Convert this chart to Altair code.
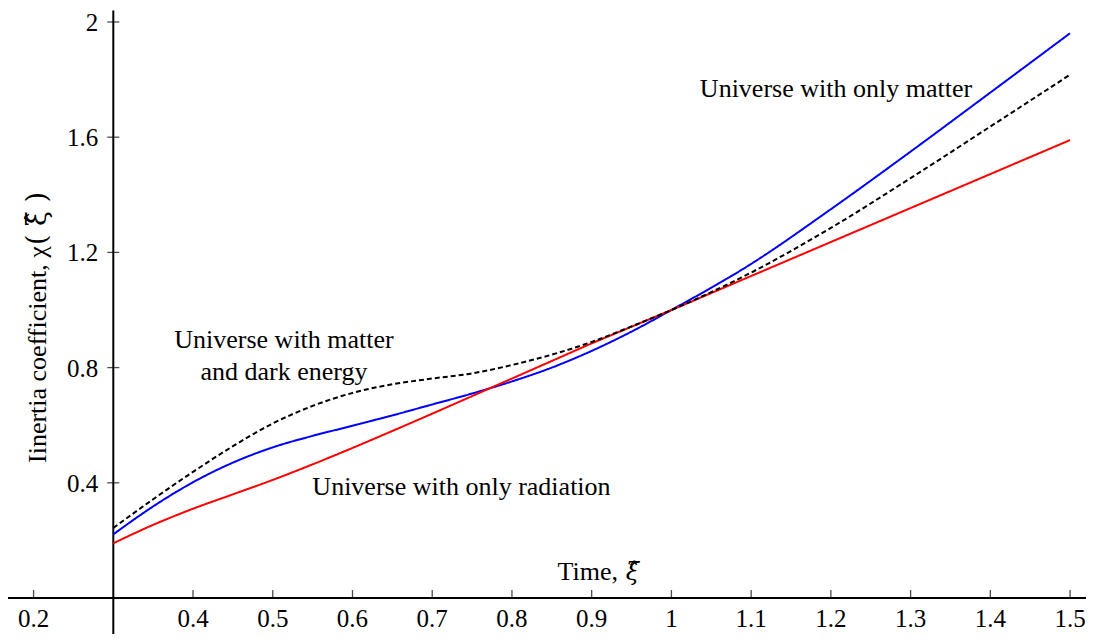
import altair as alt
import pandas as pd

# ---- data ----
xi = [0.30, 0.35, 0.40, 0.45, 0.50, 0.55, 0.60, 0.65, 0.70, 0.75, 0.80,
      0.85, 0.90, 0.95, 1.00, 1.10, 1.20, 1.30, 1.40, 1.50]
only_radiation = [0.190, 0.254, 0.310, 0.360, 0.410, 0.464, 0.521, 0.580, 0.640, 0.701,
                  0.762, 0.823, 0.884, 0.942, 1.000, 1.118, 1.236, 1.354, 1.472, 1.590]
only_matter = [0.221, 0.318, 0.402, 0.470, 0.523, 0.563, 0.598, 0.634, 0.672, 0.710,
               0.752, 0.800, 0.858, 0.925, 1.000, 1.160, 1.350, 1.550, 1.755, 1.961]
matter_dark = [0.243, 0.343, 0.438, 0.527, 0.606, 0.667, 0.712, 0.742, 0.762, 0.780,
               0.809, 0.845, 0.889, 0.943, 1.000, 1.130, 1.285, 1.458, 1.637, 1.817]

series_names = ["matter", "radiation", "dark"]
x_tick_values = [0.2, 0.4, 0.5, 0.6, 0.7, 0.8, 0.9, 1.0, 1.1, 1.2, 1.3, 1.4, 1.5]
x_tick_labels = ["0.2", "0.4", "0.5", "0.6", "0.7", "0.8", "0.9", "1", "1.1", "1.2", "1.3", "1.4", "1.5"]
y_tick_values = [0.4, 0.8, 1.2, 1.6, 2.0]
y_tick_labels = ["0.4", "0.8", "1.2", "1.6", "2"]

# ---- build tables ----
rows = []
for name, vals in zip(series_names, [only_matter, only_radiation, matter_dark]):
    for x, y in zip(xi, vals):
        rows.append({"xi": x, "chi": y, "series": name})
df = pd.DataFrame(rows)
xt = pd.DataFrame({"v": x_tick_values, "label": x_tick_labels})
yt = pd.DataFrame({"v": y_tick_values, "label": y_tick_labels})

FONT = "Liberation Serif"
GREEK = "DejaVu Serif"
X0, X1 = 0.16793, 1.51999
Y0, Y1 = -0.07639, 2.0486
AXIS_X = 0.3
xs = alt.Scale(domain=[X0, X1], nice=False, zero=False)
ys = alt.Scale(domain=[Y0, Y1], nice=False, zero=False)


def X(*a, **k):
    return alt.X(*a, scale=xs, axis=None, **k)


def Y(*a, **k):
    return alt.Y(*a, scale=ys, axis=None, **k)


def XD(v):
    return alt.X(datum=v, type="quantitative", scale=xs, axis=None)


def YD(v):
    return alt.Y(datum=v, type="quantitative", scale=ys, axis=None)


curves = alt.Chart(df).mark_line(interpolate="monotone", strokeWidth=2).encode(
    x=X("xi:Q"),
    y=Y("chi:Q"),
    color=alt.Color("series:N", scale=alt.Scale(domain=series_names,
                                                range=["#0000ff", "#ff0000", "#000000"]), legend=None),
    strokeDash=alt.StrokeDash("series:N", scale=alt.Scale(domain=series_names,
                                                          range=[[1, 0], [1, 0], [5, 3]]), legend=None),
)

x_axis_line = alt.Chart().mark_rule(color="black", strokeWidth=2).encode(
    x=XD(X0 - 0.05), x2=alt.datum(X1 + 0.05), y=YD(0))
y_axis_line = alt.Chart().mark_rule(color="black", strokeWidth=2).encode(
    x=XD(AXIS_X), y=YD(2.04), y2=alt.datum(Y0 - 0.2))

x_ticks = alt.Chart(xt).mark_tick(orient="vertical", size=8, thickness=1.3, yOffset=-4,
                                  color="black").encode(x=X("v:Q"), y=YD(0))
y_ticks = alt.Chart(yt).mark_tick(orient="horizontal", size=12, thickness=1.3,
                                  color="black").encode(x=XD(AXIS_X), y=Y("v:Q"))

x_labels = alt.Chart(xt).mark_text(font=FONT, fontSize=25, baseline="alphabetic", dy=29,
                                   align="center", color="black").encode(
    x=X("v:Q"), y=YD(0), text="label:N")
y_labels = alt.Chart(yt).mark_text(font=FONT, fontSize=25, baseline="alphabetic", dy=9, dx=-15,
                                   align="right", color="black").encode(
    x=XD(AXIS_X), y=Y("v:Q"), text="label:N")


def note(text, x, y, font=FONT, size=26, align="center", **kw):
    return alt.Chart().mark_text(font=font, fontSize=size, baseline="alphabetic", align=align,
                                 color="black", **kw).encode(
        x=XD(x), y=YD(y), text=alt.value(text))


notes = [
    note("Universe with only matter", 1.2064, 1.7396),
    note("Universe with matter", 0.5141, 0.8681),
    note("and dark energy", 0.5141, 0.7569),
    note("Universe with only radiation", 0.7367, 0.3576),
    note("Time,", 0.933, 0.0625, align="right"),
    note("\u03be\u0302", 0.9428, 0.0625, font=GREEK, size=24, align="left", fontStyle="italic"),
    note("Iinertia coefficient, \u03c7", 0.2156, 0.4688, align="left", angle=270),
    note("(  \u03be\u0302  )", 0.2156, 1.2257, font=GREEK, size=27, align="left", angle=270),
]

chart = alt.layer(x_axis_line, y_axis_line, x_ticks, y_ticks, x_labels, y_labels,
                  curves, *notes).properties(
    width=1078, height=612,
    padding={"left": 0, "top": 0, "right": 0, "bottom": 14},
    autosize=alt.AutoSizeParams(type="none"),
).configure_view(stroke=None)

chart.save("out.html", embed_options={"renderer": "svg", "actions": False})
